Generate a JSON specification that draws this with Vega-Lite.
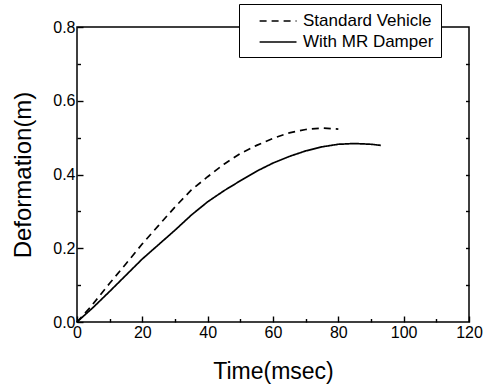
{
  "$schema": "https://vega.github.io/schema/vega-lite/v6.json",
  "width": 392,
  "height": 295,
  "autosize": {"type": "none"},
  "padding": {"left": 77, "top": 27, "right": 21, "bottom": 65},
  "background": "white",
  "config": {
    "view": {"stroke": "black", "strokeWidth": 1.5},
    "font": "Liberation Sans",
    "axis": {"labelFont": "Liberation Sans", "titleFont": "Liberation Sans", "labelColor": "black", "titleColor": "black", "domainColor": "black", "tickColor": "black", "grid": false, "domainWidth": 1.5, "tickWidth": 1.4, "titleFontWeight": "normal", "zindex": 1}
  },
  "data": {"values": [
    {"t": 0, "d": 0, "series": "Standard Vehicle"},
    {"t": 4, "d": 0.039, "series": "Standard Vehicle"},
    {"t": 10, "d": 0.105, "series": "Standard Vehicle"},
    {"t": 15, "d": 0.158, "series": "Standard Vehicle"},
    {"t": 20, "d": 0.212, "series": "Standard Vehicle"},
    {"t": 25, "d": 0.262, "series": "Standard Vehicle"},
    {"t": 30, "d": 0.312, "series": "Standard Vehicle"},
    {"t": 35, "d": 0.358, "series": "Standard Vehicle"},
    {"t": 40, "d": 0.394, "series": "Standard Vehicle"},
    {"t": 45, "d": 0.428, "series": "Standard Vehicle"},
    {"t": 50, "d": 0.457, "series": "Standard Vehicle"},
    {"t": 55, "d": 0.479, "series": "Standard Vehicle"},
    {"t": 60, "d": 0.498, "series": "Standard Vehicle"},
    {"t": 65, "d": 0.513, "series": "Standard Vehicle"},
    {"t": 70, "d": 0.522, "series": "Standard Vehicle"},
    {"t": 75, "d": 0.526, "series": "Standard Vehicle"},
    {"t": 80, "d": 0.523, "series": "Standard Vehicle"},
    {"t": 0, "d": 0, "series": "With MR Damper"},
    {"t": 5, "d": 0.04, "series": "With MR Damper"},
    {"t": 10, "d": 0.083, "series": "With MR Damper"},
    {"t": 15, "d": 0.127, "series": "With MR Damper"},
    {"t": 20, "d": 0.171, "series": "With MR Damper"},
    {"t": 25, "d": 0.21, "series": "With MR Damper"},
    {"t": 30, "d": 0.249, "series": "With MR Damper"},
    {"t": 35, "d": 0.29, "series": "With MR Damper"},
    {"t": 40, "d": 0.326, "series": "With MR Damper"},
    {"t": 45, "d": 0.356, "series": "With MR Damper"},
    {"t": 50, "d": 0.383, "series": "With MR Damper"},
    {"t": 55, "d": 0.409, "series": "With MR Damper"},
    {"t": 60, "d": 0.431, "series": "With MR Damper"},
    {"t": 65, "d": 0.449, "series": "With MR Damper"},
    {"t": 70, "d": 0.464, "series": "With MR Damper"},
    {"t": 75, "d": 0.475, "series": "With MR Damper"},
    {"t": 80, "d": 0.482, "series": "With MR Damper"},
    {"t": 85, "d": 0.484, "series": "With MR Damper"},
    {"t": 90, "d": 0.482, "series": "With MR Damper"},
    {"t": 93, "d": 0.479, "series": "With MR Damper"}
  ]},
  "resolve": {"axis": {"x": "independent", "y": "independent"}},
  "layer": [
    {
      "mark": {"type": "line", "color": "black", "strokeWidth": 1.7},
      "encoding": {
        "x": {"field": "t", "type": "quantitative", "scale": {"domain": [0, 120], "nice": false},
          "axis": {"orient": "bottom", "values": [0, 20, 40, 60, 80, 100, 120], "tickSize": -6, "labelPadding": 8, "labelFontSize": 16, "labelFlush": false, "labelOverlap": false, "title": "Time(msec)", "titleFontSize": 23, "titlePadding": 20, "domain": false}},
        "y": {"field": "d", "type": "quantitative", "scale": {"domain": [0, 0.8], "nice": false},
          "axis": {"orient": "left", "values": [0, 0.2, 0.4, 0.6, 0.8], "format": ".1f", "tickSize": -6, "labelPadding": 8, "labelFontSize": 16, "labelFlush": false, "labelOverlap": false, "title": "Deformation(m)", "titleFontSize": 24, "titlePadding": 17, "domain": false}},
        "strokeDash": {"field": "series", "type": "nominal",
          "scale": {"domain": ["Standard Vehicle", "With MR Damper"], "range": [[7, 5], [1, 0]]},
          "legend": {"orient": "none", "legendX": 162, "legendY": -23, "title": null, "fillColor": "white", "strokeColor": "black", "padding": 7, "symbolType": "M0.4,0H4.5", "symbolSize": 324, "symbolStrokeColor": "black", "symbolStrokeWidth": 1.5, "labelFontSize": 17, "labelColor": "black", "labelFont": "Liberation Sans", "rowPadding": 3, "labelOffset": 37}}
      }
    },
    {
      "mark": {"type": "line", "opacity": 0},
      "encoding": {
        "x": {"field": "t", "type": "quantitative", "scale": {"domain": [0, 120], "nice": false},
          "axis": {"orient": "bottom", "values": [10, 30, 50, 70, 90, 110], "tickSize": -3.5, "labels": false, "domain": false, "title": null}},
        "y": {"field": "d", "type": "quantitative", "scale": {"domain": [0, 0.8], "nice": false},
          "axis": {"orient": "left", "values": [0.1, 0.3, 0.5, 0.7], "tickSize": -3.5, "labels": false, "domain": false, "title": null}}
      }
    },
    {
      "mark": {"type": "line", "opacity": 0},
      "encoding": {
        "x": {"field": "t", "type": "quantitative", "scale": {"domain": [0, 120], "nice": false},
          "axis": {"orient": "top", "ticks": false, "labels": false, "domain": false, "title": null}},
        "y": {"field": "d", "type": "quantitative", "scale": {"domain": [0, 0.8], "nice": false},
          "axis": {"orient": "right", "values": [0.1, 0.2, 0.3, 0.4, 0.5, 0.6, 0.7], "tickSize": -3.5, "labels": false, "domain": false, "title": null}}
      }
    }
  ]
}
